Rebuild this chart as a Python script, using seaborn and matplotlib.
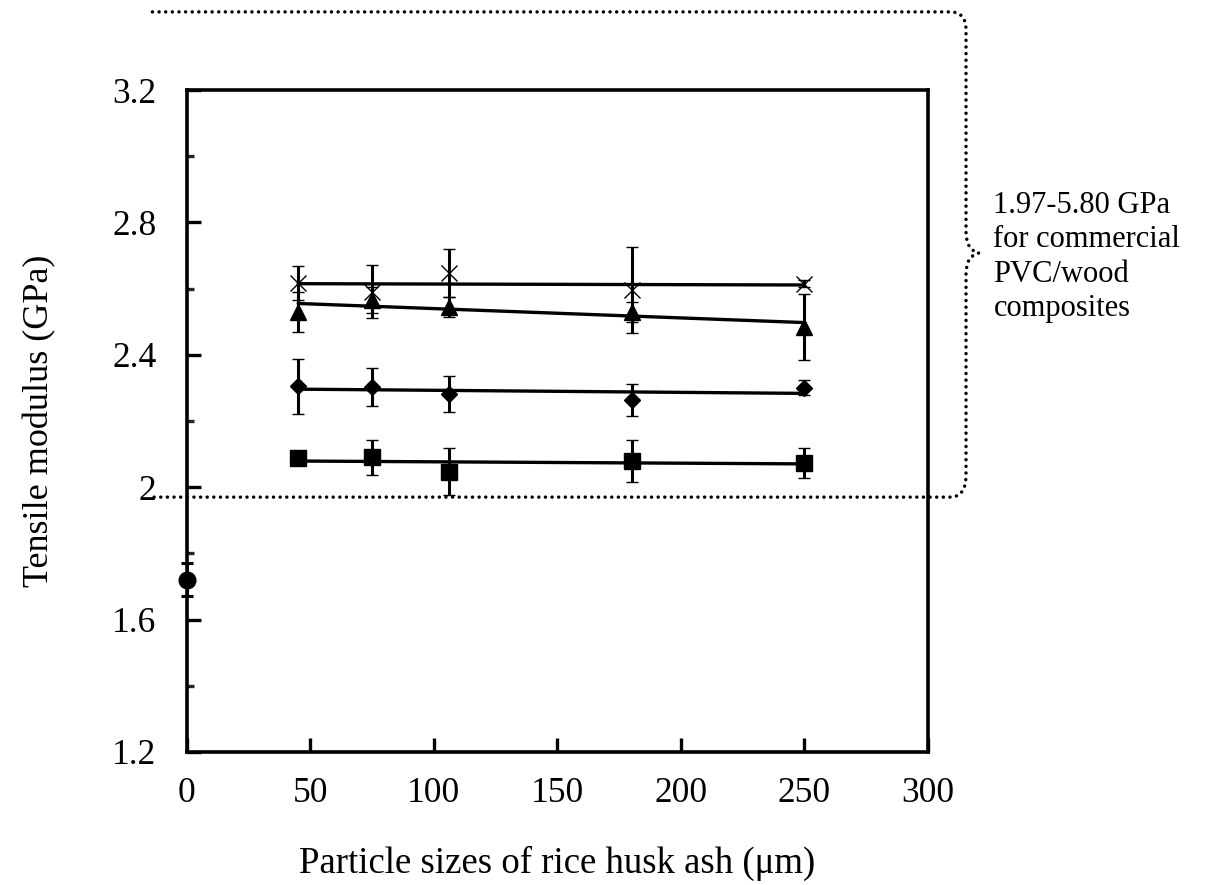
import numpy as np
import matplotlib
matplotlib.use('Agg')
import matplotlib.pyplot as plt
from matplotlib.path import Path
from matplotlib.patches import PathPatch
import seaborn as sns

# Datos
sizes = [45, 75, 106, 180, 250]

cross_y = [2.617, 2.590, 2.648, 2.596, 2.615]
cross_err = [0.050, 0.080, 0.072, 0.130, 0.010]

tri_y = [2.530, 2.565, 2.545, 2.530, 2.484]
tri_err = [0.060, 0.040, 0.030, 0.030, 0.100]

dia_y = [2.305, 2.302, 2.282, 2.264, 2.301]
dia_err = [0.083, 0.057, 0.055, 0.048, 0.022]

sq_y = [2.087, 2.090, 2.047, 2.080, 2.073]
sq_err = [0.010, 0.053, 0.070, 0.063, 0.044]

neat_x = [0]
neat_y = [1.72]
neat_err = [0.05]

range_low = 1.97      # limite inferior comercial
range_top_drawn = 3.436  # donde se corta la linea superior
range_text = '1.97-5.80 GPa\nfor commercial\nPVC/wood\ncomposites'

sns.set_theme(style='ticks')
plt.rcParams['font.family'] = ['Liberation Serif', 'DejaVu Serif']
plt.rcParams['text.color'] = 'black'
plt.rcParams['axes.labelcolor'] = 'black'

fig = plt.figure(figsize=(12.08, 8.85), dpi=100)
ax = fig.add_axes([0.1548, 0.1503, 0.6134, 0.748])

# Lineas de tendencia
series = [(cross_y, cross_err, 'x'), (tri_y, tri_err, '^'),
          (dia_y, dia_err, 'D'), (sq_y, sq_err, 's')]
for yv, ev, mk in series:
    sns.regplot(x=np.array(sizes), y=np.array(yv), ax=ax, scatter=False, ci=None,
                truncate=True, line_kws=dict(color='black', lw=2.4, zorder=2))

# Puntos con barras de error
msizes = {'x': 12, '^': 11, 'D': 8.5, 's': 12}
for yv, ev, mk in series:
    ax.errorbar(sizes, yv, yerr=ev, fmt=mk, color='black', ms=msizes[mk],
                mew=1.0, elinewidth=2.2, capsize=4, capthick=2.2, zorder=3)
ax.errorbar(neat_x, neat_y, yerr=neat_err, fmt='o', color='black', ms=12,
            elinewidth=2.2, capsize=4, capthick=2.2, zorder=4, clip_on=False)

ax.set_xlim(0, 300)
ax.set_ylim(1.2, 3.2)
ax.set_xticks(np.arange(0, 301, 50))
ax.set_yticks([1.2, 1.6, 2.0, 2.4, 2.8, 3.2])
ax.set_yticklabels(['1.2', '1.6', '2', '2.4', '2.8', '3.2'])
ax.set_yticks(np.arange(1.4, 3.1, 0.4), minor=True)

for s in ax.spines.values():
    s.set_linewidth(2.6)
    s.set_color('black')
ax.tick_params(axis='both', which='major', direction='in', length=10, width=2.4,
               labelsize=25.5, pad=18, colors='black', top=False, right=False)
ax.tick_params(axis='y', which='minor', direction='in', length=5, width=2.4,
               left=True, right=False)
ax.tick_params(axis='y', pad=22)

ax.set_xlabel('Particle sizes of rice husk ash (\u03bcm)', fontsize=26.5, labelpad=26)
ax.set_ylabel('Tensile modulus (GPa)', fontsize=26, labelpad=40)

# Rango comercial: lineas punteadas y llave
def py2y(py):
    return 3.2 - (py - 90) / 331.0

xr, xv, xc = 309, 315.4, 320.6
verts = [(-14, range_top_drawn), (xr, range_top_drawn),
         (xv, range_top_drawn), (xv, py2y(30)),
         (xv, py2y(232)),
         (xv, py2y(250)), (xc, py2y(253)),
         (xv, py2y(256)), (xv, py2y(274)),
         (xv, py2y(475)),
         (xv, range_low), (xr, range_low),
         (-14, range_low)]
codes = [Path.MOVETO, Path.LINETO,
         Path.CURVE3, Path.CURVE3,
         Path.LINETO,
         Path.CURVE3, Path.CURVE3,
         Path.CURVE3, Path.CURVE3,
         Path.LINETO,
         Path.CURVE3, Path.CURVE3,
         Path.LINETO]
patch = PathPatch(Path(verts, codes), fill=False, edgecolor='black', lw=2.5,
                  linestyle=(0, (0.01, 1.9)), capstyle='round', clip_on=False, zorder=1)
ax.add_patch(patch)

ax.text(326.5, py2y(257), range_text, fontsize=22, ha='left', va='center',
        linespacing=1.25, color='black')

plt.savefig('out.png', dpi=100)
